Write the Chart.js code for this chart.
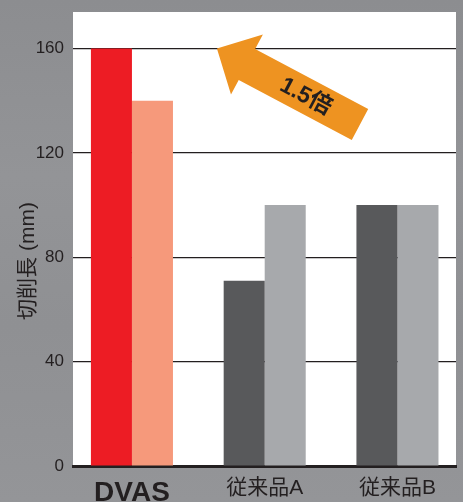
<!DOCTYPE html>
<html>
<head>
<meta charset="utf-8">
<script src="https://cdn.jsdelivr.net/npm/chart.js@4.4.1/dist/chart.umd.min.js"></script>
<style>
  html, body { margin: 0; padding: 0; background: #909194; }
  #wrap { width: 463px; height: 502px; }
</style>
</head>
<body>
<div id="wrap"><canvas id="chart-canvas"></canvas></div>
<script>
// chart values
const categories = ["DVAS", "従来品A", "従来品B"];
const firstBars = [160, 71, 100];
const secondBars = [140, 100, 100];
const yTicks = [0, 40, 80, 120, 160];
const arrowText = "1.5倍";
const yTitle = "切削長 (mm)";

// colours per bar (first / second of each pair)
const firstColors = ["#ed1c24", "#58595b", "#58595b"];
const secondColors = ["#f6997b", "#a7a9ac", "#a7a9ac"];

const ink = "#231f20";
const latin = "'Liberation Sans', Arial, 'Noto Sans CJK JP', sans-serif";

// linear x axis so the groups sit where they do in the picture
const toPoints = vals => vals.map((v, i) => ({x: i, y: v}));

// grey backdrop + white plot area
const backdrop = {
    id: "backdrop",
    beforeDraw(chart) {
        const {ctx, chartArea: a, width, height} = chart;
        ctx.save();
        const g = ctx.createLinearGradient(0, 0, 0, height);
        g.addColorStop(0, "#8c8d90");
        g.addColorStop(0.35, "#939497");
        g.addColorStop(0.65, "#8f9093");
        g.addColorStop(1, "#949598");
        ctx.fillStyle = g;
        ctx.fillRect(0, 0, width, height);
        ctx.fillStyle = "#ffffff";
        ctx.fillRect(a.left, a.top, a.right - a.left, a.bottom - a.top);
        ctx.restore();
    }
};

// orange arrow and rotated y title
const extras = {
    id: "extras",
    afterDatasetsDraw(chart) {
        const {ctx, scales} = chart;
        // arrow tip sits on the 160 line, between DVAS and 従来品A
        const tx = scales.x.getPixelForValue(0.64);
        const ty = scales.y.getPixelForValue(firstBars[0]);
        const ang = Math.atan2(60, 113);
        ctx.save();
        ctx.translate(tx, ty);
        ctx.rotate(ang);
        ctx.fillStyle = "#ee9321";
        ctx.beginPath();
        ctx.moveTo(0, 0);
        ctx.lineTo(34, -34);
        ctx.lineTo(34, -17.5);
        ctx.lineTo(162, -17.5);
        ctx.lineTo(162, 17.5);
        ctx.lineTo(34, 17.5);
        ctx.lineTo(34, 34);
        ctx.closePath();
        ctx.fill();
        ctx.fillStyle = ink;
        ctx.font = "bold 23px " + latin;
        ctx.textAlign = "center";
        ctx.textBaseline = "middle";
        ctx.fillText(arrowText, 101, 1);
        ctx.restore();

        // y axis title
        ctx.save();
        ctx.translate(28, 261);
        ctx.rotate(-Math.PI / 2);
        ctx.fillStyle = ink;
        ctx.font = "21px " + latin;
        ctx.textAlign = "center";
        ctx.textBaseline = "middle";
        ctx.fillText(yTitle, 0, 0);
        ctx.restore();
    }
};

new Chart("chart-canvas", {
    type: "bar",
    data: {
        datasets: [
            {label: "1", data: toPoints(firstBars), backgroundColor: firstColors},
            {label: "2", data: toPoints(secondBars), backgroundColor: secondColors}
        ]
    },
    options: {
        responsive: true,
        maintainAspectRatio: false,
        animation: false,
        devicePixelRatio: 1,
        categoryPercentage: 0.618,
        barPercentage: 1.0,
        layout: {padding: {top: 12, right: 7, left: 0, bottom: 0}},
        plugins: {
            legend: {display: false},
            tooltip: {enabled: false}
        },
        scales: {
            x: {
                type: "linear",
                min: -0.444,
                max: 2.441,
                offset: false,
                afterFit: s => {
                    s.height = 36;
                    s.paddingLeft = 0;
                    s.paddingRight = 0;
                },
                grid: {display: false, offset: false},
                border: {display: true, color: ink, width: 3},
                ticks: {
                    stepSize: 1,
                    includeBounds: false,
                    padding: 2,
                    color: ink,
                    font: c => c.index === 0
                        ? {family: latin, size: 28, weight: "bold"}
                        : {family: latin, size: 21},
                    callback: v => categories[v] ?? ""
                }
            },
            y: {
                min: 0,
                max: 174,
                afterFit: s => {
                    s.width = 73;
                    s.paddingTop = 0;
                    s.paddingBottom = 0;
                },
                grid: {color: ink, lineWidth: 1.2, drawTicks: false},
                border: {display: false},
                ticks: {
                    stepSize: 40,
                    includeBounds: false,
                    padding: 9,
                    color: ink,
                    font: {family: latin, size: 17},
                    callback: v => yTicks.includes(v) ? String(v) : ""
                }
            }
        }
    },
    plugins: [backdrop, extras]
});
</script>
</body>
</html>
